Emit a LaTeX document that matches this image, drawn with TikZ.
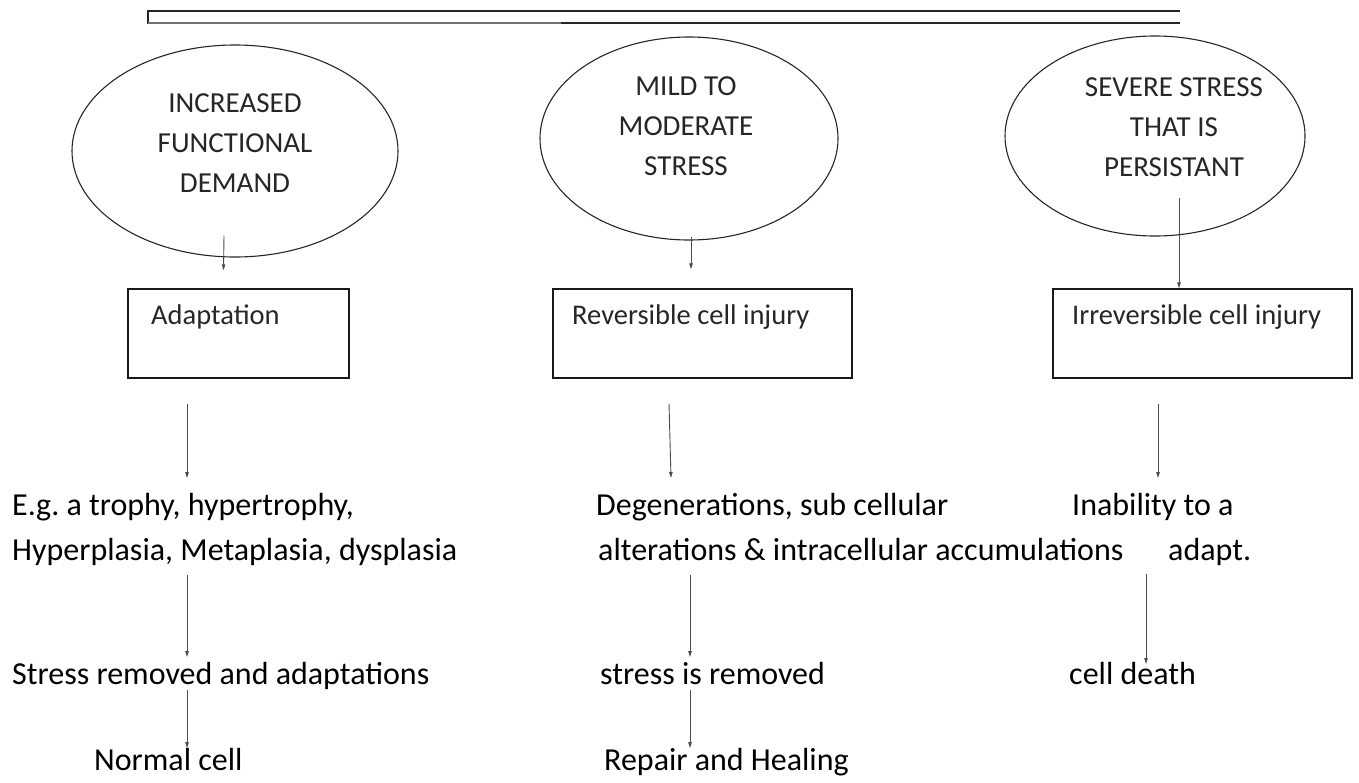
\documentclass[tikz,border=0pt]{standalone}
\usepackage{fontspec}
\setmainfont{Carlito}
\usetikzlibrary{arrows.meta,calc,positioning,shapes.geometric}

\begin{document}
\begin{tikzpicture}[x=1pt,y=-1pt,>={Triangle[length=6pt,width=3.5pt]},
  stress/.style={draw=black!85,ellipse,line width=1.1pt,inner sep=0pt},
  stresstxt/.style={align=center,text=black!85,font=\fontsize{29}{40}\selectfont},
  injury/.style={draw=black!90,line width=1.4pt,inner sep=0pt,minimum height=89pt},
  injurytxt/.style={anchor=base west,inner sep=0pt,text=black!85,font=\fontsize{28.5}{34}\selectfont},
  stage/.style={anchor=base west,inner sep=0pt,font=\fontsize{32}{38}\selectfont},
  arr/.style={->,draw=black!70,line width=0.9pt}]
  \useasboundingbox (0,0) rectangle (1359,782);
  \draw[black!85,line width=1.2pt] (1180,11) -- (148,11) -- (148,23) -- (561,23);
  \draw[black!55,line width=1.2pt] (148,23) -- (561,23);
  \draw[black!85,line width=1.2pt] (561,23) -- (1180,23);
  \node[stress,minimum width=326pt,minimum height=212pt] (demand) at (235,151) {};
  \node[stresstxt] (demandtxt) at (235,143) {INCREASED\\FUNCTIONAL\\DEMAND};
  \node[stress,minimum width=298pt,minimum height=203pt] (mild) at (689,138.5) {};
  \node[stresstxt] (mildtxt) at (686,126) {MILD TO\\MODERATE\\STRESS};
  \node[stress,minimum width=300pt,minimum height=200pt] (severe) at (1155,136) {};
  \node[stresstxt] (severetxt) at (1174,127) {SEVERE STRESS\\THAT IS\\PERSISTANT};
  \node[injury,minimum width=221pt] (adapt) at (238.5,333.5) {};
  \node[injurytxt] (adapttxt) at (151,324) {Adaptation};
  \node[injury,minimum width=299pt] (rev) at (702.5,333.5) {};
  \node[injurytxt] (revtxt) at (572,324) {Reversible cell injury};
  \node[injury,minimum width=299pt] (irrev) at (1202.5,333.5) {};
  \node[injurytxt] (irrevtxt) at (1072,324) {Irreversible cell injury};
  \node[stage] (eg1) at (12,515) {E.g.\ a trophy, hypertrophy,};
  \node[stage] (eg2) at (12,560) {Hyperplasia, Metaplasia, dysplasia};
  \node[stage] (removed) at (12,684) {Stress removed and adaptations};
  \node[stage] (normal) at (94,770) {Normal cell};
  \node[stage] (deg1) at (596,515) {Degenerations, sub cellular};
  \node[stage] (deg2) at (598,560) {alterations \& intracellular accumulations};
  \node[stage] (srem) at (600,684) {stress is removed};
  \node[stage] (repair) at (604,770) {Repair and Healing};
  \node[stage] (inab1) at (1072,515) {Inability to a};
  \node[stage] (inab2) at (1168,560) {adapt.};
  \node[stage] (death) at (1069,684) {cell death};
  \draw[arr] ([shift={(-11,-22)}]demand.south) -- ([shift={(-15,-18)}]adapt.north);
  \draw[arr] ([shift={(2,-4)}]mild.south) -- ([shift={(-11.5,-19)}]rev.north);
  \draw[arr] ([shift={(24,-39)}]severe.south) -- ([xshift=-23.5]irrev.north);
  \draw[arr] ([shift={(-51.5,25)}]adapt.south) -- ([shift={(175,-37)}]eg1.base west);
  \draw[arr] ([shift={(-33.5,25)}]rev.south) -- ([shift={(75,-37)}]deg1.base west);
  \draw[arr] ([shift={(-44.5,25)}]irrev.south) -- ([shift={(86,-37)}]inab1.base west);
  \draw[arr] ([shift={(175,15)}]eg2.base west) -- ([shift={(175,-27)}]removed.base west);
  \draw[arr] ([shift={(175,6)}]removed.base west) -- ([shift={(93,-22)}]normal.base west);
  \draw[arr] ([shift={(92,15)}]deg2.base west) -- ([shift={(90,-27)}]srem.base west);
  \draw[arr] ([shift={(90,6)}]srem.base west) -- ([shift={(86,-22)}]repair.base west);
  \draw[arr] ([shift={(-22,14)}]inab2.base west) -- ([shift={(77,-20)}]death.base west);
\end{tikzpicture}
\end{document}
